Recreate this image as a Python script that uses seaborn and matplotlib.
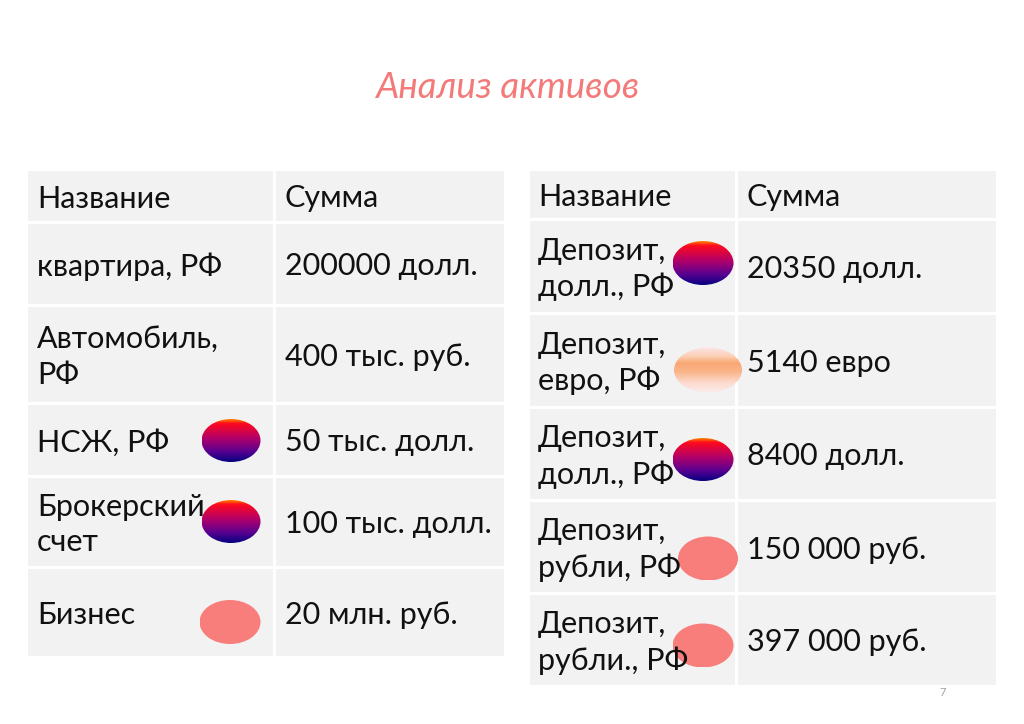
import numpy as np
import matplotlib
matplotlib.use("Agg")
import matplotlib.pyplot as plt
from matplotlib.patches import Rectangle, Ellipse
from matplotlib.colors import LinearSegmentedColormap
import seaborn as sns

sns.set_theme(style="white")
plt.rcParams['font.family'] = ['Lato', 'DejaVu Sans']

# ---------------- data ----------------
title = "Анализ активов"
headers = ["Название", "Сумма"]
left_names = ["квартира, РФ", "Автомобиль,\nРФ", "НСЖ, РФ", "Брокерский\nсчет", "Бизнес"]
left_amounts = ["200000 долл.", "400 тыс. руб.", "50 тыс. долл.", "100 тыс. долл.", "20 млн. руб."]
left_markers = [None, None, "usd", "usd", "rub"]
right_names = ["Депозит,\nдолл., РФ", "Депозит,\nевро, РФ", "Депозит,\nдолл., РФ",
               "Депозит,\nрубли, РФ", "Депозит,\nрубли., РФ"]
right_amounts = ["20350 долл.", "5140 евро", "8400 долл.", "150 000 руб.", "397 000 руб."]
right_markers = ["usd", "eur", "usd", "rub", "rub"]
page_number = "7"

# ---------------- layout (pixels) ----------------
W, H = 1024, 724
fig = plt.figure(figsize=(W / 100, H / 100), dpi=100)
fig.patch.set_facecolor("white")
ax = fig.add_axes([0, 0, 1, 1])
ax.set_xlim(0, W)
ax.set_ylim(H, 0)
ax.axis("off")

CELL = "#f2f2f2"
TXT = "#111111"
FS = 22
DY = 3

gradients = {
    "usd": LinearSegmentedColormap.from_list(
        "usd", [(0.0, "#ff8a00"), (0.1, "#ff0a1e"), (0.45, "#b0006a"),
                (0.75, "#5a0090"), (1.0, "#050080")]),
    "eur": LinearSegmentedColormap.from_list(
        "eur", [(0.0, "#fbe6e6"), (0.2, "#fcd0b8"), (0.35, "#f9a874"),
                (0.55, "#fab58a"), (0.8, "#fcdcd0"), (1.0, "#fdebeb")]),
    "rub": LinearSegmentedColormap.from_list("rub", ["#f87e7c", "#f87e7c"]),
}


def draw_marker(kind, cx, cy, w, h):
    ell = Ellipse((cx, cy), w, h, facecolor="none", edgecolor="none")
    ax.add_patch(ell)
    grad = np.linspace(0, 1, 256).reshape(-1, 1)
    im = ax.imshow(grad, cmap=gradients[kind], aspect="auto", origin="upper",
                   extent=(cx - w / 2, cx + w / 2, cy + h / 2, cy - h / 2),
                   interpolation="bilinear", zorder=2)
    im.set_clip_path(ell)


def draw_table(x0, xdiv, x1, row_edges, names, amounts, markers, marker_pos, name_x, amt_x):
    gap = 1.5
    for i in range(len(row_edges) - 1):
        ya, yb = row_edges[i], row_edges[i + 1]
        for (a, b) in [(x0, xdiv), (xdiv, x1)]:
            ax.add_patch(Rectangle((a + gap, ya + gap), b - a - 2 * gap, yb - ya - 2 * gap,
                                   facecolor=CELL, edgecolor="none", zorder=1))
    # header
    yc = (row_edges[0] + row_edges[1]) / 2
    ax.text(name_x, yc + DY, headers[0], fontsize=FS, color=TXT, va="center", ha="left", zorder=4)
    ax.text(amt_x, yc + DY, headers[1], fontsize=FS, color=TXT, va="center", ha="left", zorder=4)
    for i, (n, a, m) in enumerate(zip(names, amounts, markers)):
        yc = (row_edges[i + 1] + row_edges[i + 2]) / 2
        ax.text(name_x, yc + DY, n, fontsize=FS, color=TXT, va="center", ha="left",
                linespacing=1.33, zorder=4)
        ax.text(amt_x, yc + DY, a, fontsize=FS, color=TXT, va="center", ha="left", zorder=4)
        if m is not None:
            cx, dy, w, h = marker_pos[i]
            draw_marker(m, cx, yc + dy, w, h)


left_rows = [169, 222, 305, 403, 476, 567, 657]
right_rows = [169, 219, 313, 407, 500, 593, 686]

left_mpos = [None, None, (231, 1, 59, 43), (231, 0, 59, 43), (230, 10, 61, 44)]
right_mpos = [(703, -3, 61, 44), (708, 10, 68, 45), (703, 6, 61, 43),
              (708, 12, 60, 44), (703, 6, 61, 44)]

draw_table(26, 274, 505, left_rows, left_names, left_amounts, left_markers,
           left_mpos, 37, 285)
draw_table(528, 736, 997, right_rows, right_names, right_amounts, right_markers,
           right_mpos, 538, 747)

ax.text(507, 88, title, fontsize=26.5, color="#f47a7a", ha="center", va="center",
        style="italic", fontweight="normal")
ax.text(943, 693, page_number, fontsize=8, color="#a0a0a0", ha="center", va="center")

fig.savefig("out.png", dpi=100, facecolor="white")
